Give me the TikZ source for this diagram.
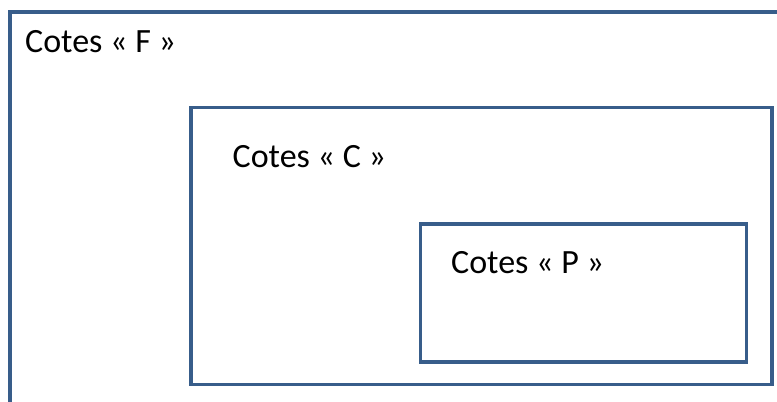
\documentclass[tikz,border=0pt]{standalone}
\usepackage{fontspec}
\setmainfont{Carlito}
\definecolor{frame}{RGB}{56,93,138}
\begin{document}
\begin{tikzpicture}[x=1bp,y=-1bp,
  box/.style={draw=frame, line width=3.2bp, rectangle, anchor=north west, inner sep=0pt, outer sep=0pt},
  lbl/.style={anchor=base west, inner sep=0pt, font=\fontsize{34bp}{40bp}\selectfont}]
\useasboundingbox (0,0) rectangle (777,401);
\clip (0,0) rectangle (777,401);
\fill[white] (0,0) rectangle (777,401);
\node[box, minimum width=800bp, minimum height=420bp] (F) at (10,12) {};
\node[box, minimum width=581bp, minimum height=277bp] (C) at (191,107.5) {};
\node[box, minimum width=326bp, minimum height=138bp] (P) at (420.5,224) {};
\node[lbl] (tF) at (25,52.5) {Cotes « F »};
\node[lbl] (tC) at (232.5,167) {Cotes « C »};
\node[lbl] (tP) at (451,273.5) {Cotes « P »};
\end{tikzpicture}
\end{document}
